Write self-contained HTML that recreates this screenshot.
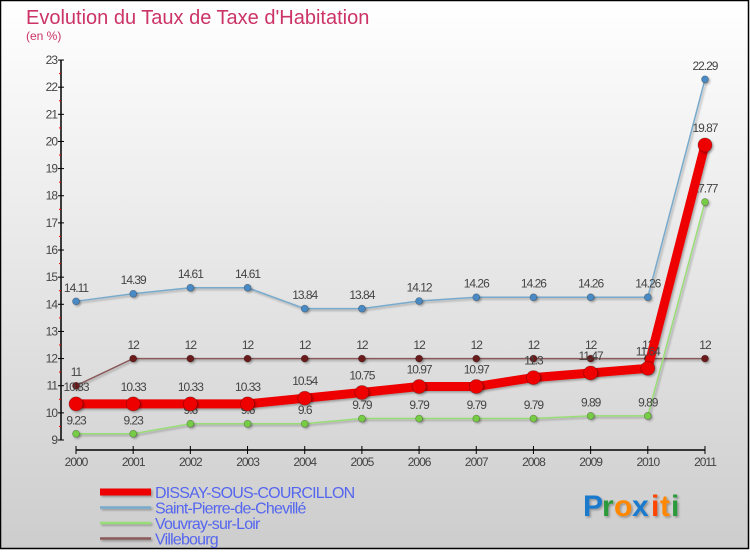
<!DOCTYPE html>
<html><head><meta charset="utf-8"><style>
html,body{margin:0;padding:0}
body{width:750px;height:550px;overflow:hidden;font-family:"Liberation Sans",sans-serif}
</style></head><body>
<svg id="chart" width="750" height="550" xmlns="http://www.w3.org/2000/svg">
<defs>
<linearGradient id="bg" x1="0" y1="0" x2="0" y2="1"><stop offset="0" stop-color="#ffffff"/><stop offset="1" stop-color="#cdcdcd"/></linearGradient>
<filter id="sh" filterUnits="userSpaceOnUse" x="0" y="0" width="750" height="550"><feDropShadow dx="1.5" dy="1.5" stdDeviation="1" flood-opacity="0.3"/></filter>
</defs>
<rect x="0.5" y="0.5" width="748" height="548" fill="url(#bg)" stroke="#000" stroke-width="1.5"/>
<text x="26" y="24" font-size="20" fill="#cc3366">Evolution du Taux de Taxe d'Habitation</text>
<text x="26" y="40" font-size="12" fill="#cc3366">(en %)</text>
<g id="axes"></g>
<g id="series"></g>
<g id="legend"></g>
<g font-size="30" font-weight="bold" filter="url(#sh)">
<text x="583" y="516" fill="#1a7acc">P</text><text x="602" y="516" fill="#2a9a3a">r</text><text x="614" y="516" fill="#ff8800">o</text><text x="632" y="516" fill="#1a7acc">x</text><text x="651" y="516" fill="#ff4400">i</text><text x="660" y="516" fill="#ff8800">t</text><text x="671" y="516" fill="#2a9a3a">i</text>
</g>
</svg>
<script>
const years = [2000,2001,2002,2003,2004,2005,2006,2007,2008,2009,2010,2011];
const dissay = [10.33,10.33,10.33,10.33,10.54,10.75,10.97,10.97,11.3,11.47,11.64,19.87];
const saintPierre = [14.11,14.39,14.61,14.61,13.84,13.84,14.12,14.26,14.26,14.26,14.26,22.29];
const vouvray = [9.23,9.23,9.6,9.6,9.6,9.79,9.79,9.79,9.79,9.89,9.89,17.77];
const villebourg = [11,12,12,12,12,12,12,12,12,12,12,12];
const yTicks = [9,10,11,12,13,14,15,16,17,18,19,20,21,22,23];
const NS="http://www.w3.org/2000/svg";
function xs(i){return 76+i*57.18;}
function ys(v){return 440-(v-9)*27.14;}
function mk(tag,attrs,parent){const e=document.createElementNS(NS,tag);for(const k in attrs)e.setAttribute(k,attrs[k]);parent.appendChild(e);return e;}
const axes=document.getElementById('axes');
let a=mk('line',{x1:61,y1:60,x2:61,y2:440,stroke:'#000','stroke-width':1.5},axes);


yTicks.forEach(v=>{
  const y=ys(v);
  let t=mk('line',{x1:58,y1:y,x2:64,y2:y,stroke:'#000'},axes);
  
  
  if(v<23){let m=mk('line',{x1:59,y1:y-13.57,x2:61,y2:y-13.57,stroke:'#e00'},axes);
  
  }
  let l=mk('text',{x:57,y:y+4,'font-size':12,'text-anchor':'end',fill:'#444','letter-spacing':'-1'},axes);
  l.textContent=v;
  
  
});
let xa=mk('line',{x1:76,y1:450,x2:705,y2:450,stroke:'#000','stroke-width':1.5},axes);


years.forEach((yr,i)=>{
  let t=mk('line',{x1:xs(i),y1:446,x2:xs(i),y2:454,stroke:'#000'},axes);
  
  
  let l=mk('text',{x:xs(i),y:466,'font-size':12,'text-anchor':'middle',fill:'#444','letter-spacing':'-1'},axes);
  l.textContent=yr;
  
  
});
const series=[
 {name:'villebourg',label:'Villebourg',data:villebourg,color:'#8a5a5a',dot:'#6a1a1a',w:1.5,r:3.5},
 {name:'vouvray',label:'Vouvray-sur-Loir',data:vouvray,color:'#99dd77',dot:'#77cc44',w:1.5,r:3.5},
 {name:'saint-pierre',label:'Saint-Pierre-de-Chevillé',data:saintPierre,color:'#77aacc',dot:'#4a8ac4',w:1.5,r:3.5},
 {name:'dissay',label:'DISSAY-SOUS-COURCILLON',data:dissay,color:'#ee0000',dot:'#ee0000',w:9,r:7}
];
const sg=document.getElementById('series');
series.forEach(s=>{
  const g=mk('g',{},sg);
  
  
  const p=mk('polyline',{points:s.data.map((v,i)=>xs(i)+','+ys(v)).join(' '),fill:'none',stroke:s.color,'stroke-width':s.w,'stroke-linejoin':'round',filter:'url(#sh)'},g);
  
  
  s.data.forEach((v,i)=>{
    const c=mk('circle',{cx:xs(i),cy:ys(v),r:s.r,fill:s.dot,stroke:'rgba(0,0,0,0.3)','stroke-width':0.7,filter:'url(#sh)'},g);
    
    
    const t=mk('text',{x:xs(i),y:ys(v)-(s.r+6),'font-size':12,'text-anchor':'middle',fill:'#444','letter-spacing':'-1'},g);
    t.textContent=String(v);
    
    
  });
});
const lg=document.getElementById('legend');
const order=[series[3],series[2],series[1],series[0]];
order.forEach((s,k)=>{
  const y=492+k*15.5;
  const g=mk('g',{},lg);
  
  
  const h=k===0?7:2.5;
  mk('rect',{x:100,y:y-h/2,width:51,height:h,fill:s.color,filter:'url(#sh)'},g);
  const t=mk('text',{x:155,y:y+6,'font-size':16,fill:'#5566ee','letter-spacing':'-0.8'},g);
  t.textContent=s.label;
});
</script>
</body></html>
